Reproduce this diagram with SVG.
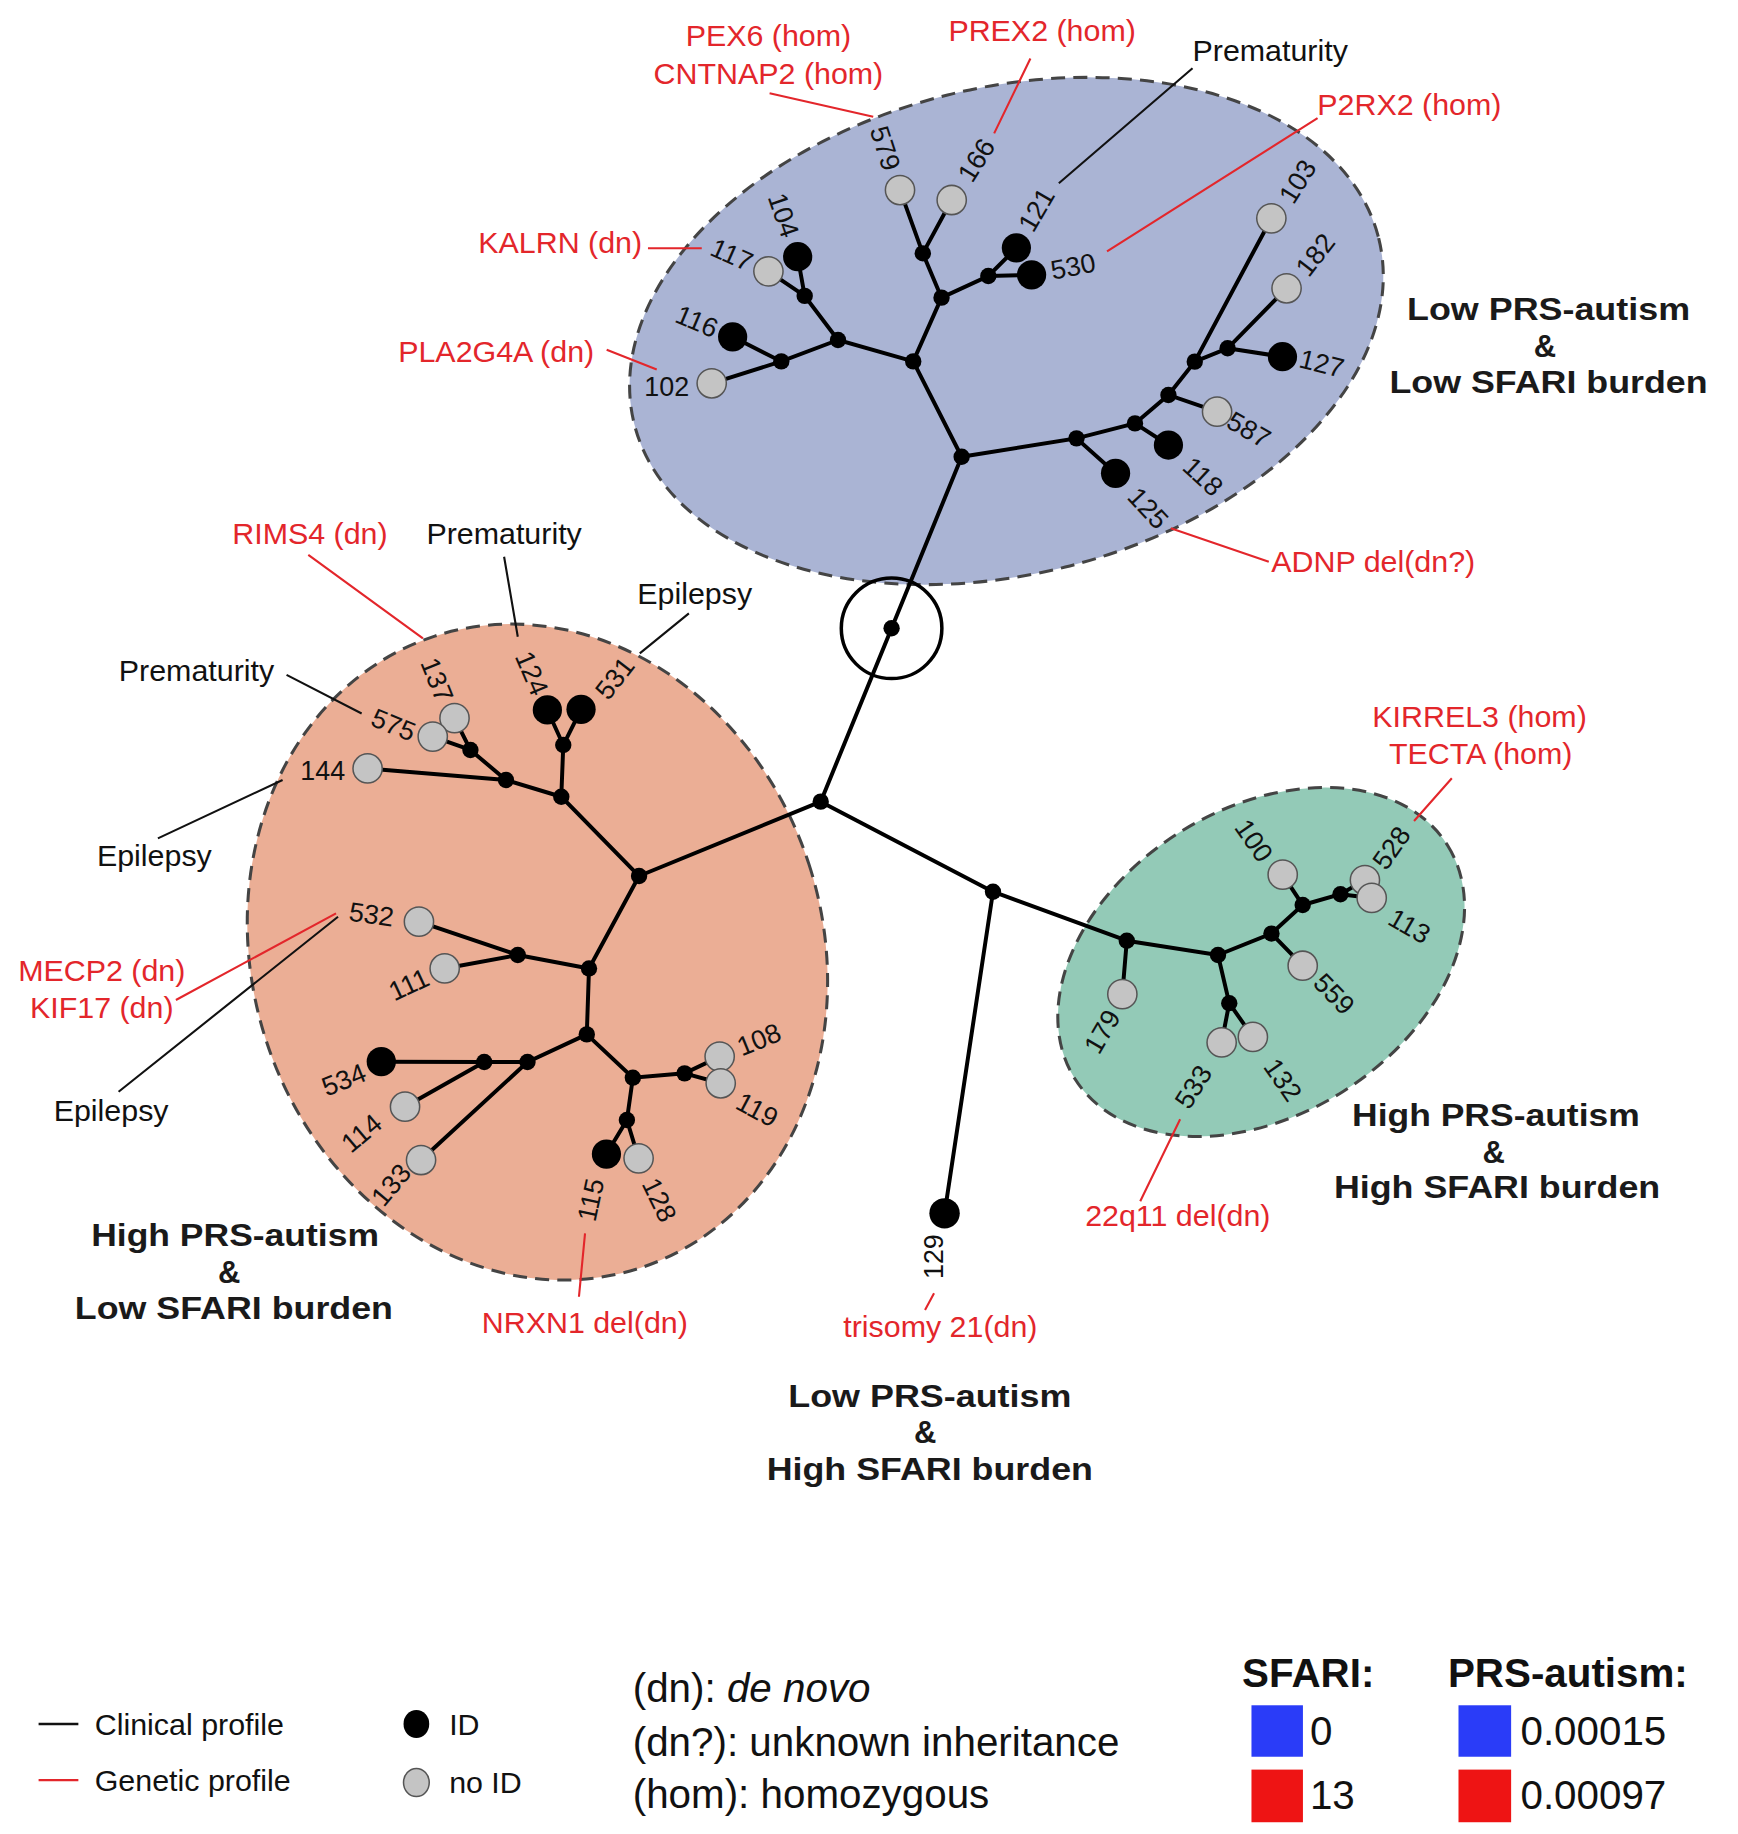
<svg xmlns="http://www.w3.org/2000/svg" width="1738" height="1834" viewBox="0 0 1738 1834">
<style>
text{font-family:"Liberation Sans",Arial,sans-serif}
.cl{stroke:#444;stroke-width:2.6;stroke-dasharray:12 7}
.e{stroke:#000;stroke-width:3.4;stroke-linecap:round;fill:none}
.j{fill:#000}
.b{fill:#000}
.g{fill:#c4c4c4;stroke:#555;stroke-width:1.3}
.lbl{font-size:23px;fill:#111;text-anchor:middle;dominant-baseline:central}
.ann{font-size:26px;fill:#111;dominant-baseline:central}
.red{fill:#e3262b}
.ll{stroke:#111;stroke-width:1.8}
.lr{stroke:#e3262b;stroke-width:1.8}
.grp{font-size:26.5px;font-weight:bold;fill:#1a1a1a;text-anchor:middle;dominant-baseline:central}
.leg{font-size:26px;fill:#111;dominant-baseline:central}
.leg2{font-size:34.5px;fill:#111;dominant-baseline:central}
</style>
<rect width="1738" height="1834" fill="#fff"/>
<g transform="scale(1.1696)">
<g id="clusters">
<ellipse id="cluster-blue" class="cl" cx="860.5" cy="283" rx="328" ry="208" transform="rotate(-14 860.5 283)" fill="#aab4d4"/>
<ellipse id="cluster-orange" class="cl" cx="459.5" cy="814" rx="244" ry="284" transform="rotate(-18 459.5 814)" fill="#ebae95"/>
<ellipse id="cluster-green" class="cl" cx="1078.3" cy="822.5" rx="188" ry="131" transform="rotate(-32 1078.3 822.5)" fill="#93cab7"/>
<circle id="root-ring" cx="762.3" cy="537.2" r="43" fill="none" stroke="#000" stroke-width="3"/>
</g>
<g id="edges">
<path class="e" d="M762.3 537.2L822.2 390.5M762.3 537.2L701.7 685.4M701.7 685.4L546.4 749M701.7 685.4L849 762.4M849 762.4L963.4 804.3M849 762.4L807.6 1037.4"/>
<path class="e" d="M822.2 390.5L780.8 309L716.5 290.7L688 253L682 219.5M688 253L657 232M716.5 290.7L668 309L626.4 288M668 309L608.5 327.7M780.8 309L805 254.5L789 216.6L769.5 162.5M789 216.6L813.7 171M805 254.5L845 236L869 212M845 236L882 235M822.2 390.5L920.4 374.8L953.8 404.7M920.4 374.8L970.4 362L999 380.5M970.4 362L999 337.7L1040.6 352M999 337.7L1021.5 309.2L1087 186.7M1021.5 309.2L1049.6 297.8L1100 246.5M1049.6 297.8L1096.5 305"/>
<path class="e" d="M546.4 749L479.9 681.2L481.6 637L468 607M481.6 637L496.8 606.5M479.9 681.2L432.6 666.9L314.3 657M432.6 666.9L402.2 641.2L388.6 614M402.2 641.2L370 629.8M546.4 749L503.6 828L442.7 816.5L358.2 788M442.7 816.5L380.2 828M503.6 828L501.7 884.4L451 908L414 908L326 907.7M414 908L346.3 946.2M451 908L360 991.8M501.7 884.4L541.1 921.4L585.3 917.7L615.3 903.4M585.3 917.7L616.2 926.2M541.1 921.4L536 957.6L518.5 986.7M536 957.6L546 990.4"/>
<path class="e" d="M963.4 804.3L959.6 850M963.4 804.3L1041.4 816.5L1051 857.7L1044.5 891.3M1051 857.7L1071.2 886.6M1041.4 816.5L1087.1 798.2L1113.8 825.7M1087.1 798.2L1113.8 773.8L1096.7 747.8M1113.8 773.8L1146.1 764.6L1167 752.4M1146.1 764.6L1172.8 767.7"/>
</g>
<g id="internal-nodes">
<circle id="j-root" class="j" cx="762.3" cy="537.2" r="7"/>
<circle id="j-center" class="j" cx="701.7" cy="685.4" r="7"/>
<circle id="j-2" class="j" cx="849" cy="762.4" r="7"/>
<circle id="j-B0" class="j" cx="822.2" cy="390.5" r="7"/>
<circle id="j-B1" class="j" cx="780.8" cy="309" r="7"/>
<circle id="j-B2" class="j" cx="716.5" cy="290.7" r="7"/>
<circle id="j-B3" class="j" cx="688" cy="253" r="7"/>
<circle id="j-B4" class="j" cx="668" cy="309" r="7"/>
<circle id="j-B5" class="j" cx="805" cy="254.5" r="7"/>
<circle id="j-B6" class="j" cx="789" cy="216.6" r="7"/>
<circle id="j-B7" class="j" cx="845" cy="236" r="7"/>
<circle id="j-B8" class="j" cx="920.4" cy="374.8" r="7"/>
<circle id="j-B9" class="j" cx="970.4" cy="362" r="7"/>
<circle id="j-B10" class="j" cx="999" cy="337.7" r="7"/>
<circle id="j-B11" class="j" cx="1021.5" cy="309.2" r="7"/>
<circle id="j-B12" class="j" cx="1049.6" cy="297.8" r="7"/>
<circle id="j-O0" class="j" cx="546.4" cy="749" r="7"/>
<circle id="j-O1" class="j" cx="479.9" cy="681.2" r="7"/>
<circle id="j-O2" class="j" cx="481.6" cy="637" r="7"/>
<circle id="j-O3" class="j" cx="432.6" cy="666.9" r="7"/>
<circle id="j-O4" class="j" cx="402.2" cy="641.2" r="7"/>
<circle id="j-O5" class="j" cx="503.6" cy="828" r="7"/>
<circle id="j-O6" class="j" cx="442.7" cy="816.5" r="7"/>
<circle id="j-O7" class="j" cx="501.7" cy="884.4" r="7"/>
<circle id="j-O8" class="j" cx="451" cy="908" r="7"/>
<circle id="j-O9" class="j" cx="414" cy="908" r="7"/>
<circle id="j-O10" class="j" cx="541.1" cy="921.4" r="7"/>
<circle id="j-O11" class="j" cx="585.3" cy="917.7" r="7"/>
<circle id="j-O12" class="j" cx="536" cy="957.6" r="7"/>
<circle id="j-G0" class="j" cx="963.4" cy="804.3" r="7"/>
<circle id="j-G1" class="j" cx="1041.4" cy="816.5" r="7"/>
<circle id="j-G2" class="j" cx="1051" cy="857.7" r="7"/>
<circle id="j-G3" class="j" cx="1087.1" cy="798.2" r="7"/>
<circle id="j-G4" class="j" cx="1113.8" cy="773.8" r="7"/>
<circle id="j-G5" class="j" cx="1146.1" cy="764.6" r="7"/>
</g>
<g id="n104"><circle class="b" cx="682" cy="219.5" r="12.5"/><text class="lbl" transform="translate(669.7 184) rotate(71)">104</text></g>
<g id="n117"><circle class="g" cx="657" cy="232" r="12.5"/><text class="lbl" transform="translate(625.6 218) rotate(24)">117</text></g>
<g id="n116"><circle class="b" cx="626.4" cy="288" r="12.5"/><text class="lbl" transform="translate(595.7 275) rotate(23)">116</text></g>
<g id="n102"><circle class="g" cx="608.5" cy="327.7" r="12.5"/><text class="lbl" transform="translate(570 330.6)">102</text></g>
<g id="n579"><circle class="g" cx="769.5" cy="162.5" r="12.5"/><text class="lbl" transform="translate(756.7 126.8) rotate(72)">579</text></g>
<g id="n166"><circle class="g" cx="813.7" cy="171" r="12.5"/><text class="lbl" transform="translate(835 137) rotate(-58)">166</text></g>
<g id="n121"><circle class="b" cx="869" cy="212" r="12.5"/><text class="lbl" transform="translate(886.3 179.5) rotate(-60)">121</text></g>
<g id="n530"><circle class="b" cx="882" cy="235" r="12.5"/><text class="lbl" transform="translate(917.5 228) rotate(-11)">530</text></g>
<g id="n125"><circle class="b" cx="953.8" cy="404.7" r="12.5"/><text class="lbl" transform="translate(981.5 434.6) rotate(47)">125</text></g>
<g id="n118"><circle class="b" cx="999" cy="380.5" r="12.5"/><text class="lbl" transform="translate(1028.4 407.6) rotate(43)">118</text></g>
<g id="n587"><circle class="g" cx="1040.6" cy="352" r="12.5"/><text class="lbl" transform="translate(1067.6 367.6) rotate(30)">587</text></g>
<g id="n103"><circle class="g" cx="1087" cy="186.7" r="12.5"/><text class="lbl" transform="translate(1109.6 155.3) rotate(-58)">103</text></g>
<g id="n182"><circle class="g" cx="1100" cy="246.5" r="12.5"/><text class="lbl" transform="translate(1124.7 218) rotate(-52)">182</text></g>
<g id="n127"><circle class="b" cx="1096.5" cy="305" r="12.5"/><text class="lbl" transform="translate(1130 311) rotate(14)">127</text></g>
<g id="n124"><circle class="b" cx="468" cy="607" r="12.5"/><text class="lbl" transform="translate(454.5 575.7) rotate(67)">124</text></g>
<g id="n531"><circle class="b" cx="496.8" cy="606.5" r="12.5"/><text class="lbl" transform="translate(525.8 580) rotate(-52)">531</text></g>
<g id="n137"><circle class="g" cx="388.6" cy="614" r="12.5"/><text class="lbl" transform="translate(373.4 581.4) rotate(68)">137</text></g>
<g id="n575"><circle class="g" cx="370" cy="629.8" r="12.5"/><text class="lbl" transform="translate(336.3 620) rotate(22)">575</text></g>
<g id="n144"><circle class="g" cx="314.3" cy="657" r="12.5"/><text class="lbl" transform="translate(276 659)">144</text></g>
<g id="n532"><circle class="g" cx="358.2" cy="788" r="12.5"/><text class="lbl" transform="translate(317.6 782) rotate(8)">532</text></g>
<g id="n111"><circle class="g" cx="380.2" cy="828" r="12.5"/><text class="lbl" transform="translate(349.7 842) rotate(-25)">111</text></g>
<g id="n534"><circle class="b" cx="326" cy="907.7" r="12.5"/><text class="lbl" transform="translate(294 923.4) rotate(-22)">534</text></g>
<g id="n114"><circle class="g" cx="346.3" cy="946.2" r="12.5"/><text class="lbl" transform="translate(309.2 969) rotate(-40)">114</text></g>
<g id="n133"><circle class="g" cx="360" cy="991.8" r="12.5"/><text class="lbl" transform="translate(334.6 1013.2) rotate(-50)">133</text></g>
<g id="n115"><circle class="b" cx="518.5" cy="986.7" r="12.5"/><text class="lbl" transform="translate(505.3 1026) rotate(-78)">115</text></g>
<g id="n128"><circle class="g" cx="546" cy="990.4" r="12.5"/><text class="lbl" transform="translate(563.5 1026) rotate(64)">128</text></g>
<g id="n108"><circle class="g" cx="615.3" cy="903.4" r="12.5"/><text class="lbl" transform="translate(649 889) rotate(-22)">108</text></g>
<g id="n119"><circle class="g" cx="616.2" cy="926.2" r="12.5"/><text class="lbl" transform="translate(647.3 949) rotate(28)">119</text></g>
<g id="n129"><circle class="b" cx="807.6" cy="1037.4" r="13"/><text class="lbl" transform="translate(798.6 1074.4) rotate(-90)">129</text></g>
<g id="n179"><circle class="g" cx="959.6" cy="850" r="12.5"/><text class="lbl" transform="translate(942.5 882.2) rotate(-60)">179</text></g>
<g id="n533"><circle class="g" cx="1044.5" cy="891.3" r="12.5"/><text class="lbl" transform="translate(1020.5 929.4) rotate(-58)">533</text></g>
<g id="n132"><circle class="g" cx="1071.2" cy="886.6" r="12.5"/><text class="lbl" transform="translate(1096.7 923.4) rotate(55)">132</text></g>
<g id="n559"><circle class="g" cx="1113.8" cy="825.7" r="12.5"/><text class="lbl" transform="translate(1140.5 850) rotate(46)">559</text></g>
<g id="n100"><circle class="g" cx="1096.7" cy="747.8" r="12.5"/><text class="lbl" transform="translate(1071.9 718.8) rotate(55)">100</text></g>
<g id="n528"><circle class="g" cx="1167" cy="752.4" r="12.5"/><text class="lbl" transform="translate(1189.9 725) rotate(-55)">528</text></g>
<g id="n113"><circle class="g" cx="1172.8" cy="767.7" r="12.5"/><text class="lbl" transform="translate(1205 792) rotate(30)">113</text></g>
<g id="annotation-leaders">
<path class="lr" d="M658 79.8L746.6 99.8M881 50L850 114M1126.5 101L946.5 215M554 212.3L600 212.3M518.7 299L561.5 316M1084.8 480.2L1001 451.7M263.6 474.5L361.6 545.8M150.4 855L287.3 780.9M495 1108.7L500.2 1054.5M790.9 1120L798.6 1105.8M1241.3 665.4L1209 702M974.9 1027L1009 957"/>
<path class="ll" d="M1019.6 58.4L905.3 156.7M431 476L442.7 544.4M589 524.4L547 558.6M245 577L309.2 610M135 716.8L241.6 666.9M101.4 933.4L289 783.8"/>
</g>
<g id="annotations">
<text class="ann red" x="657" y="30" text-anchor="middle">PEX6 (hom)</text>
<text class="ann red" x="657" y="62" text-anchor="middle">CNTNAP2 (hom)</text>
<text class="ann red" x="891" y="26" text-anchor="middle">PREX2 (hom)</text>
<text class="ann" x="1086" y="43" text-anchor="middle">Prematurity</text>
<text class="ann red" x="1205" y="89" text-anchor="middle">P2RX2 (hom)</text>
<text class="ann red" x="549" y="207" text-anchor="end">KALRN (dn)</text>
<text class="ann red" x="508" y="300" text-anchor="end">PLA2G4A (dn)</text>
<text class="ann red" x="1087" y="480">ADNP del(dn?)</text>
<text class="ann red" x="265" y="456" text-anchor="middle">RIMS4 (dn)</text>
<text class="ann" x="431" y="456" text-anchor="middle">Prematurity</text>
<text class="ann" x="594" y="507" text-anchor="middle">Epilepsy</text>
<text class="ann" x="168" y="573" text-anchor="middle">Prematurity</text>
<text class="ann" x="132" y="731" text-anchor="middle">Epilepsy</text>
<text class="ann red" x="87" y="829" text-anchor="middle">MECP2 (dn)</text>
<text class="ann red" x="87" y="861" text-anchor="middle">KIF17 (dn)</text>
<text class="ann" x="95" y="949" text-anchor="middle">Epilepsy</text>
<text class="ann red" x="500" y="1130" text-anchor="middle">NRXN1 del(dn)</text>
<text class="ann red" x="804" y="1134" text-anchor="middle">trisomy 21(dn)</text>
<text class="ann red" x="1265" y="612" text-anchor="middle">KIRREL3 (hom)</text>
<text class="ann red" x="1266" y="644" text-anchor="middle">TECTA (hom)</text>
<text class="ann red" x="1007" y="1039" text-anchor="middle">22q11 del(dn)</text>
</g>
<g id="group-labels">
<text class="grp" x="1324" y="265" textLength="242" lengthAdjust="spacingAndGlyphs">Low PRS-autism</text>
<text class="grp" x="1321" y="296">&amp;</text>
<text class="grp" x="1324" y="327" textLength="272" lengthAdjust="spacingAndGlyphs">Low SFARI burden</text>
<text class="grp" x="201" y="1056" textLength="246" lengthAdjust="spacingAndGlyphs">High PRS-autism</text>
<text class="grp" x="196" y="1088">&amp;</text>
<text class="grp" x="200" y="1119" textLength="272" lengthAdjust="spacingAndGlyphs">Low SFARI burden</text>
<text class="grp" x="1279" y="954" textLength="246" lengthAdjust="spacingAndGlyphs">High PRS-autism</text>
<text class="grp" x="1277" y="985">&amp;</text>
<text class="grp" x="1280" y="1015" textLength="279" lengthAdjust="spacingAndGlyphs">High SFARI burden</text>
<text class="grp" x="795" y="1194" textLength="242" lengthAdjust="spacingAndGlyphs">Low PRS-autism</text>
<text class="grp" x="791" y="1225">&amp;</text>
<text class="grp" x="795" y="1256" textLength="279" lengthAdjust="spacingAndGlyphs">High SFARI burden</text>
</g>
<g id="legend">
<line x1="33" y1="1474" x2="67" y2="1474" stroke="#111" stroke-width="2"/>
<text class="leg" x="81" y="1474">Clinical profile</text>
<line x1="33" y1="1522" x2="67" y2="1522" stroke="#e3262b" stroke-width="2"/>
<text class="leg red" x="81" y="1522">Genetic profile</text>
<ellipse cx="356" cy="1474" rx="11" ry="12" fill="#000"/>
<text class="leg" x="384" y="1474">ID</text>
<ellipse class="g" cx="356" cy="1524" rx="11" ry="12"/>
<text class="leg" x="384" y="1524">no ID</text>
<text class="leg2" x="541" y="1443">(dn): <tspan font-style="italic">de novo</tspan></text>
<text class="leg2" x="541" y="1489">(dn?): unknown inheritance</text>
<text class="leg2" x="541" y="1534">(hom): homozygous</text>
<text class="leg2" x="1062" y="1430" font-weight="bold">SFARI:</text>
<text class="leg2" x="1238" y="1430" font-weight="bold">PRS-autism:</text>
<rect x="1070" y="1458" width="44" height="44" fill="#2a3cf8"/>
<text class="leg2" x="1120" y="1480">0</text>
<rect x="1070" y="1513" width="44" height="45" fill="#ee1414"/>
<text class="leg2" x="1120" y="1535">13</text>
<rect x="1247" y="1458" width="45" height="44" fill="#2a3cf8"/>
<text class="leg2" x="1300" y="1480">0.00015</text>
<rect x="1247" y="1513" width="45" height="45" fill="#ee1414"/>
<text class="leg2" x="1300" y="1535">0.00097</text>
</g>
</g>
</svg>
